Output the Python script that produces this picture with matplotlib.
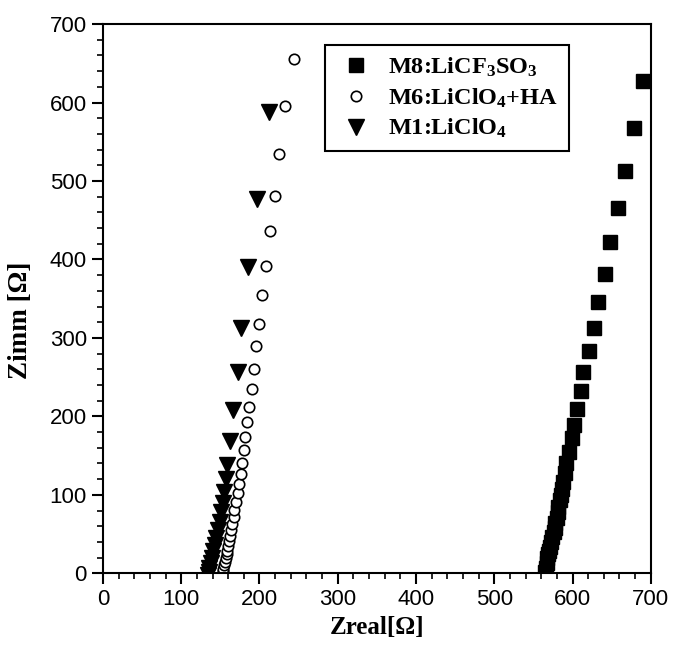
import matplotlib.pyplot as plt
from matplotlib.ticker import MultipleLocator

# data (Zreal, Zimm in Ohm)
m8_zreal = [565, 566, 567, 568, 569, 570, 571, 573, 574, 576, 577, 578, 580, 581, 582,
            584, 585, 587, 588, 590, 592, 596, 599, 602, 606, 611, 614, 621, 627, 633,
            641, 648, 658, 667, 679, 690]
m8_zimm = [2, 7, 13, 19, 24, 29, 34, 40, 46, 52, 58, 64, 71, 78, 85,
           93, 100, 108, 116, 128, 141, 155, 172, 189, 210, 232, 256, 283, 312, 346,
           382, 422, 466, 513, 568, 627]

m6_zreal = [153, 154, 154, 155, 156, 157, 158, 159, 160, 161, 162, 164, 165, 167, 168,
            170, 172, 174, 176, 178, 180, 182, 184, 187, 190, 193, 196, 200, 203, 208,
            214, 220, 225, 233, 244]
m6_zimm = [0, 3, 6, 10, 14, 19, 24, 29, 35, 41, 48, 55, 63, 72, 81,
           91, 102, 114, 127, 141, 157, 174, 193, 212, 235, 260, 290, 318, 355, 392,
           436, 481, 535, 596, 656]

m1_zreal = [134, 135, 136, 138, 139, 141, 143, 145, 147, 149, 151, 153, 155, 157, 159,
            162, 166, 172, 177, 185, 197, 212]
m1_zimm = [-2, 2, 7, 13, 20, 28, 36, 45, 55, 66, 78, 90, 103, 120, 138,
           168, 208, 257, 313, 390, 477, 588]

labels = ['M8:LiCF$_3$SO$_3$', 'M6:LiClO$_4$+HA', 'M1:LiClO$_4$']

plt.rcParams['font.family'] = 'Liberation Sans'
plt.rcParams['mathtext.fontset'] = 'custom'
plt.rcParams['mathtext.rm'] = 'Liberation Serif:bold'
plt.rcParams['mathtext.it'] = 'Liberation Serif:bold'
plt.rcParams['mathtext.bf'] = 'Liberation Serif:bold'
plt.rcParams['mathtext.default'] = 'rm'

fig = plt.figure(figsize=(6.73, 6.5), dpi=100)
ax = fig.add_axes([0.153, 0.118, 0.814, 0.845])

ax.plot(m8_zreal, m8_zimm, 's', color='black', ms=9.5, ls='none', label=labels[0])
ax.plot(m6_zreal, m6_zimm, 'o', mfc='white', mec='black', mew=1.2, ms=7.5,
        ls='none', label=labels[1])
ax.plot(m1_zreal, m1_zimm, 'v', color='black', ms=11, ls='none', label=labels[2])

ax.set_xlim(0, 700)
ax.set_ylim(0, 700)
ax.xaxis.set_major_locator(MultipleLocator(100))
ax.yaxis.set_major_locator(MultipleLocator(100))
ax.xaxis.set_minor_locator(MultipleLocator(20))
ax.yaxis.set_minor_locator(MultipleLocator(20))
ax.tick_params(which='major', direction='out', length=8, width=1.5, labelsize=16)
ax.tick_params(which='minor', direction='out', length=4, width=1.2)
for s in ax.spines.values():
    s.set_linewidth(1.5)

ax.set_xlabel('Zreal[Ω]', family='Liberation Serif', weight='bold', fontsize=18)
ax.set_ylabel('Zimm [Ω]', family='Liberation Serif', weight='bold', fontsize=19.5)
ax.yaxis.set_label_coords(-0.128, 0.46)

leg = ax.legend(loc='upper left', bbox_to_anchor=(0.405, 0.962), borderaxespad=0,
                fancybox=False, edgecolor='black', framealpha=1,
                handlelength=1.7, handletextpad=0.45, borderpad=0.45,
                labelspacing=0.3,
                prop={'family': 'Liberation Serif', 'weight': 'bold', 'size': 17.5})
leg.get_frame().set_linewidth(1.5)

fig.savefig('out.png', dpi=100)
